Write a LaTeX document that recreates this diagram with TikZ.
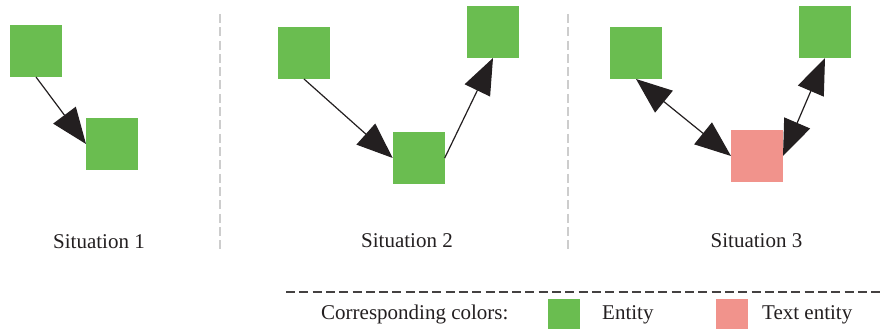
\documentclass[tikz,border=0pt]{standalone}
\usepackage{fontspec}
\setmainfont{Liberation Serif}
\usetikzlibrary{arrows.meta}
\definecolor{entitygreen}{RGB}{106,189,80}
\definecolor{textpink}{RGB}{241,147,140}
\definecolor{inkdark}{RGB}{35,31,32}
\definecolor{sepgrey}{RGB}{205,205,205}
\tikzset{
  entity/.style={fill=entitygreen, minimum size=52pt, inner sep=0pt, outer sep=0pt},
  textentity/.style={fill=textpink, minimum size=52pt, inner sep=0pt, outer sep=0pt},
  bighead/.tip={Triangle[length=36pt,width=28pt]},
  link/.style={draw=inkdark, line width=1.2pt, -bighead},
  bilink/.style={draw=inkdark, line width=1.2pt, bighead-bighead},
  caption/.style={anchor=base, text=inkdark, inner sep=0pt,
    font=\fontsize{21}{25}\selectfont},
  legendtext/.style={anchor=base west, text=inkdark, inner sep=0pt,
    font=\fontsize{21}{25}\selectfont},
  separator/.style={draw=sepgrey, line width=1.3pt, dash pattern=on 9pt off 4.3pt},
  legendrule/.style={draw=inkdark!85, line width=1.1pt, dash pattern=on 9pt off 4.3pt},
}
\begin{document}
\begin{tikzpicture}[x=1pt, y=-1pt]
\useasboundingbox (0,0) rectangle (884,329);

% separators between the three situations
\coordinate (s1top) at (220,14);
\coordinate (s1bot) at (220,250);
\coordinate (s2top) at (568,14);
\coordinate (s2bot) at (568,250);
\draw[separator] (s1top) -- (s1bot);
\draw[separator] (s2top) -- (s2bot);

% Situation 1
\node[entity] (a) at (36,51) {};
\node[entity] (b) at (112,144) {};
\draw[link] (a.south) -- (b.west);
\node[caption] (cap1) at (99,248) {Situation 1};

% Situation 2
\node[entity] (c) at (304,53) {};
\node[entity] (d) at (418.7,158) {};
\node[entity] (e) at (493,32) {};
\draw[link] (c.south) -- (d.west);
\draw[link] (d.east) -- (e.south);
\node[caption] (cap2) at (407,247) {Situation 2};

% Situation 3
\node[entity] (f) at (636,53) {};
\node[textentity] (g) at (757,156) {};
\node[entity] (h) at (825,32) {};
\draw[bilink] (f.south) -- (g.west);
\draw[bilink] (g.east) -- (h.south);
\node[caption] (cap3) at (756.5,247) {Situation 3};

% legend
\coordinate (lgl) at (286,292);
\coordinate (lgr) at (884,292);
\draw[legendrule] (lgl) -- (lgr);
\node[legendtext] (lgcap) at (321,319) {Corresponding colors:};
\node[fill=entitygreen, minimum width=32pt, minimum height=30pt, inner sep=0pt] (lgent) at (564,314) {};
\node[legendtext] (lgentt) at (602,319) {Entity};
\node[fill=textpink, minimum width=32pt, minimum height=30pt, inner sep=0pt] (lgtxt) at (732,314) {};
\node[legendtext] (lgtxtt) at (762,319) {Text entity};
\end{tikzpicture}
\end{document}
